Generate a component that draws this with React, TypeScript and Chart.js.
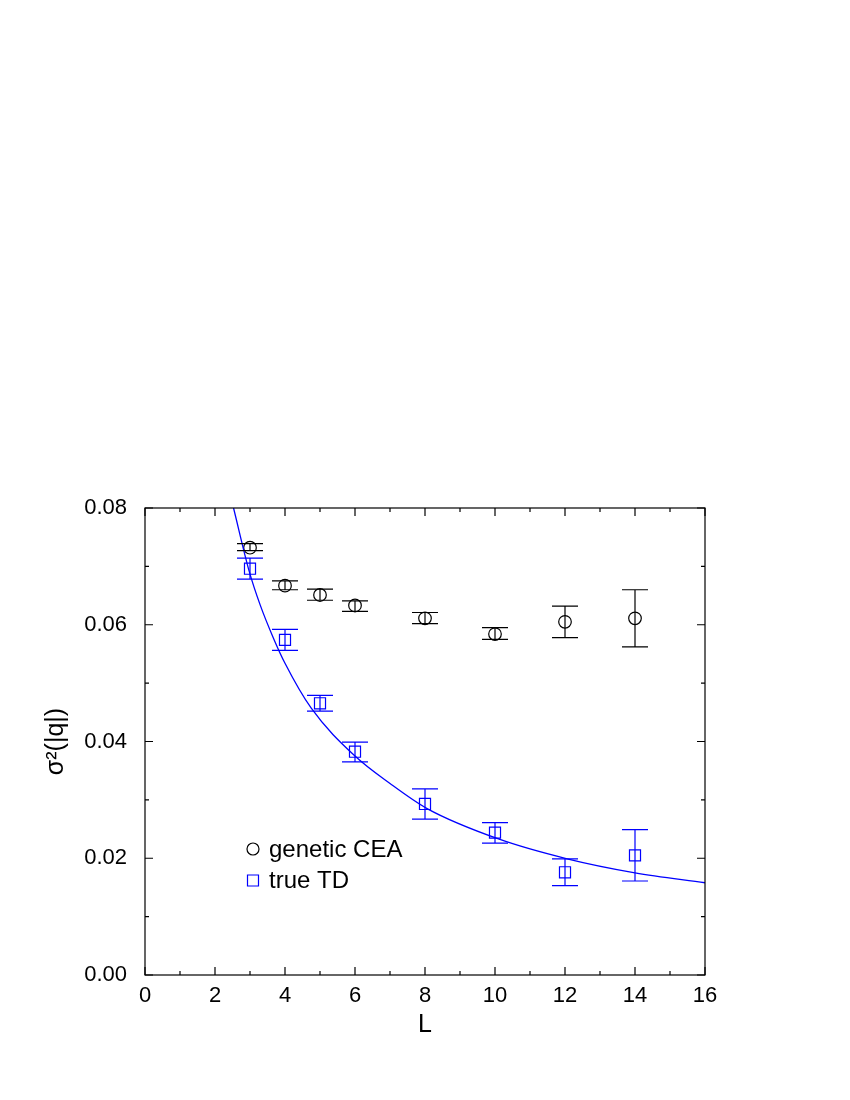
import { useEffect, useRef } from "react";
import { Chart, registerables } from "chart.js";

Chart.register(...registerables);

// ---- data ----
const L_VALUES = [3, 4, 5, 6, 8, 10, 12, 14];

const CEA_LABEL = "genetic CEA";
const CEA_VALUES = [0.0732, 0.0667, 0.0651, 0.0633, 0.0611, 0.0584, 0.0605, 0.0611];
const CEA_LOW = [0.0727, 0.066, 0.0642, 0.0623, 0.0602, 0.0575, 0.0578, 0.0562];
const CEA_HIGH = [0.0739, 0.0675, 0.0661, 0.0641, 0.0621, 0.0595, 0.0632, 0.066];

const TD_LABEL = "true TD";
const TD_VALUES = [0.0696, 0.0574, 0.04655, 0.03825, 0.0293, 0.0244, 0.0176, 0.0205];
const TD_LOW = [0.0678, 0.0556, 0.0452, 0.0365, 0.0267, 0.0226, 0.0153, 0.0161];
const TD_HIGH = [0.0714, 0.0592, 0.0479, 0.0399, 0.0319, 0.0261, 0.0199, 0.0249];

const FIT_L = [2.53, 2.98, 3.29, 3.67, 4.0, 4.75, 6.0, 7.0, 8.06, 10.1, 12.06, 14.0, 16.0];
const FIT_VALUES = [0.08, 0.0691, 0.0634, 0.0577, 0.0534, 0.0457, 0.0375, 0.0328, 0.0285, 0.0233, 0.0199, 0.0175, 0.0158];

const X_MIN = 0;
const X_MAX = 16;
const X_STEP = 2;
const Y_MIN = 0;
const Y_MAX = 0.08;
const Y_STEP = 0.02;

const X_TITLE = "L";
const Y_TITLE = "σ²(|q|)";

const FONT = '"Liberation Sans", Arial, Helvetica, sans-serif';
const BLACK = "#000000";
const BLUE = "#0000ff";

const errorBarsPlugin = {
  id: "errorBars",
  afterDatasetsDraw(chart: any) {
    const { ctx } = chart;
    const xs = chart.scales.x;
    const ys = chart.scales.y;
    chart.data.datasets.forEach((ds: any) => {
      if (!ds.errLow) return;
      ctx.save();
      ctx.strokeStyle = ds.borderColor;
      ctx.lineWidth = 1.2;
      ds.data.forEach((p: any, i: number) => {
        const px = xs.getPixelForValue(p.x);
        const yl = ys.getPixelForValue(ds.errLow[i]);
        const yh = ys.getPixelForValue(ds.errHigh[i]);
        const cap = 13;
        ctx.beginPath();
        ctx.moveTo(px, yl);
        ctx.lineTo(px, yh);
        ctx.moveTo(px - cap, yl);
        ctx.lineTo(px + cap, yl);
        ctx.moveTo(px - cap, yh);
        ctx.lineTo(px + cap, yh);
        ctx.stroke();
      });
      ctx.restore();
    });
  },
};

const framePlugin = {
  id: "frame",
  afterDraw(chart: any) {
    const { ctx, chartArea } = chart;
    const { left, right, top, bottom } = chartArea;
    const xs = chart.scales.x;
    const ys = chart.scales.y;
    ctx.save();
    ctx.strokeStyle = BLACK;
    ctx.lineWidth = 1.2;
    ctx.strokeRect(left, top, right - left, bottom - top);
    const major = 8;
    const minor = 4;
    ctx.beginPath();
    const xt = xs.ticks.map((t: any) => t.value);
    xt.forEach((v: number, i: number) => {
      const px = xs.getPixelForValue(v);
      ctx.moveTo(px, bottom);
      ctx.lineTo(px, bottom - major);
      ctx.moveTo(px, top);
      ctx.lineTo(px, top + major);
      if (i < xt.length - 1) {
        const mx = xs.getPixelForValue((v + xt[i + 1]) / 2);
        ctx.moveTo(mx, bottom);
        ctx.lineTo(mx, bottom - minor);
        ctx.moveTo(mx, top);
        ctx.lineTo(mx, top + minor);
      }
    });
    const yt = ys.ticks.map((t: any) => t.value);
    yt.forEach((v: number, i: number) => {
      const py = ys.getPixelForValue(v);
      ctx.moveTo(left, py);
      ctx.lineTo(left + major, py);
      ctx.moveTo(right, py);
      ctx.lineTo(right - major, py);
      if (i < yt.length - 1) {
        const my = ys.getPixelForValue((v + yt[i + 1]) / 2);
        ctx.moveTo(left, my);
        ctx.lineTo(left + minor, my);
        ctx.moveTo(right, my);
        ctx.lineTo(right - minor, my);
      }
    });
    ctx.stroke();
    ctx.restore();
  },
};

const legendPlugin = {
  id: "insideLegend",
  afterDraw(chart: any) {
    const { ctx, chartArea } = chart;
    const items = chart.data.datasets.filter((d: any) => d.inLegend);
    const mx = chartArea.left + 108;
    const textX = chartArea.left + 124;
    let y = chartArea.top + 341;
    ctx.save();
    ctx.font = `24px ${FONT}`;
    ctx.textBaseline = "middle";
    ctx.textAlign = "left";
    items.forEach((d: any) => {
      ctx.strokeStyle = d.borderColor;
      ctx.lineWidth = 1.2;
      ctx.beginPath();
      if (d.pointStyle === "circle") {
        ctx.arc(mx, y, 6, 0, Math.PI * 2);
      } else {
        ctx.rect(mx - 5.5, y - 5.5, 11, 11);
      }
      ctx.stroke();
      ctx.fillStyle = BLACK;
      ctx.fillText(d.label, textX, y + 1);
      y += 31.5;
    });
    ctx.restore();
  },
};

export default function App() {
  const ref = useRef<HTMLCanvasElement | null>(null);

  useEffect(() => {
    if (!ref.current) return;
    const chart = new Chart(ref.current, {
      type: "scatter",
      data: {
        datasets: [
          {
            label: "fit",
            data: FIT_L.map((x, i) => ({ x, y: FIT_VALUES[i] })),
            showLine: true,
            borderColor: BLUE,
            borderWidth: 1.3,
            pointRadius: 0,
            cubicInterpolationMode: "monotone",
            fill: false,
          } as any,
          {
            label: CEA_LABEL,
            data: L_VALUES.map((x, i) => ({ x, y: CEA_VALUES[i] })),
            errLow: CEA_LOW,
            errHigh: CEA_HIGH,
            inLegend: true,
            showLine: false,
            pointStyle: "circle",
            pointRadius: 6.3,
            borderColor: BLACK,
            backgroundColor: "rgba(0,0,0,0)",
            borderWidth: 1.2,
          } as any,
          {
            label: TD_LABEL,
            data: L_VALUES.map((x, i) => ({ x, y: TD_VALUES[i] })),
            errLow: TD_LOW,
            errHigh: TD_HIGH,
            inLegend: true,
            showLine: false,
            pointStyle: "rect",
            pointRadius: 7.8,
            borderColor: BLUE,
            backgroundColor: "rgba(0,0,0,0)",
            borderWidth: 1.2,
          } as any,
        ],
      },
      options: {
        responsive: false,
        animation: false,
        devicePixelRatio: 1,
        layout: { padding: { left: 0, top: 508, right: 145, bottom: 0 } },
        plugins: {
          legend: { display: false },
          tooltip: { enabled: false },
        },
        scales: {
          x: {
            type: "linear",
            min: X_MIN,
            max: X_MAX,
            grid: { display: false, drawTicks: false },
            border: { display: false },
            ticks: {
              stepSize: X_STEP,
              color: BLACK,
              padding: 8,
              font: { family: FONT, size: 22 },
              maxRotation: 0,
            },
            title: {
              display: true,
              text: X_TITLE,
              color: BLACK,
              font: { family: FONT, size: 25 },
              padding: { top: 0, bottom: 60 },
            },
            afterFit(scale: any) {
              scale.height = 125;
            },
          },
          y: {
            type: "linear",
            min: Y_MIN,
            max: Y_MAX,
            grid: { display: false, drawTicks: false },
            border: { display: false },
            ticks: {
              stepSize: Y_STEP,
              color: BLACK,
              padding: 18,
              font: { family: FONT, size: 22 },
              callback: (v: any) => Number(v).toFixed(2),
            },
            title: {
              display: true,
              text: Y_TITLE,
              color: BLACK,
              font: { family: FONT, size: 25 },
              padding: { top: 41, bottom: 0 },
            },
            afterFit(scale: any) {
              scale.width = 145;
            },
          },
        },
      } as any,
      plugins: [errorBarsPlugin, framePlugin, legendPlugin],
    });
    return () => chart.destroy();
  }, []);

  return (
    <div style={{ position: "absolute", left: 0, top: 0, width: 850, height: 1100, background: "#fff" }}>
      <canvas ref={ref} width={850} height={1100} />
    </div>
  );
}
